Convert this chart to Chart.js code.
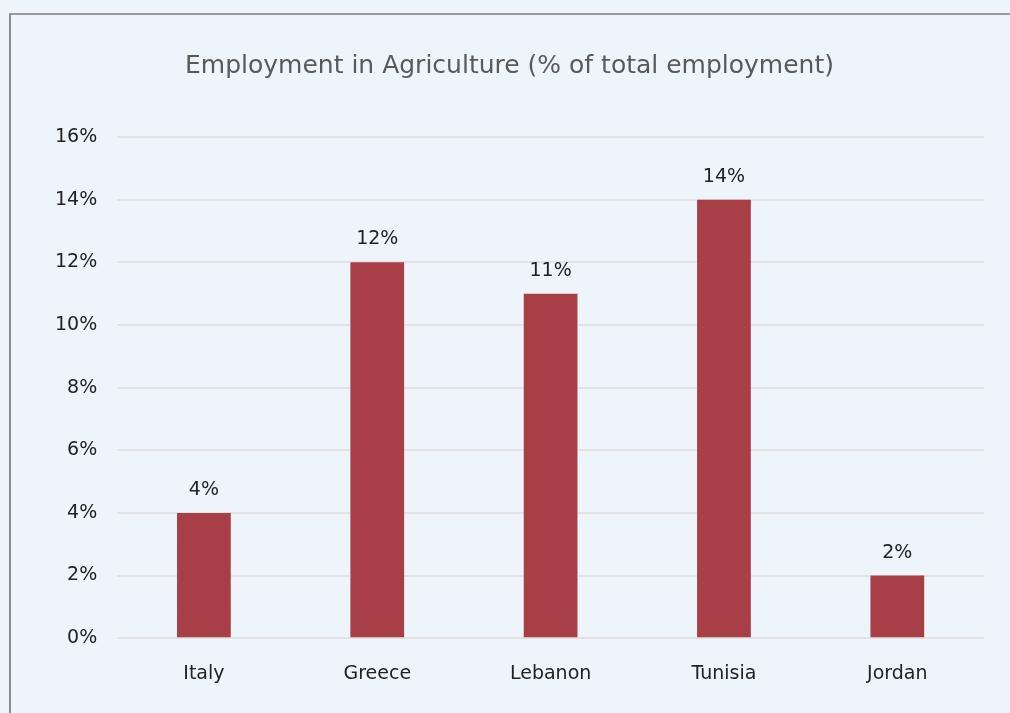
<html>
  <head>
    <script src="https://cdn.jsdelivr.net/npm/chart.js@4/dist/chart.umd.min.js"></script>
    <meta charset="utf-8">
    <title>Employment in Agriculture</title>
    <style>
      body { margin: 0; background: #edf5fb; }
      #frame {
        position: absolute; left: 9px; top: 13px; width: 1001px; height: 700px;
        border-top: 2px solid #9a9a9a; border-left: 2px solid #8c8c8c;
        box-sizing: border-box;
      }
    </style>
  </head>
  <body>
    <div id="frame"><canvas id="myChart"></canvas></div>

    <script type="text/javascript">
      const countries = ["Italy", "Greece", "Lebanon", "Tunisia", "Jordan"];
      const agriShare = [4, 12, 11, 14, 2];
      const yTicks = [0, 2, 4, 6, 8, 10, 12, 14, 16];

      const FONT = "'DejaVu Sans', sans-serif";

      // value labels above each bar
      const barLabels = {
        id: 'barLabels',
        afterDatasetsDraw(chart) {
          const ctx = chart.ctx;
          const meta = chart.getDatasetMeta(0);
          ctx.save();
          ctx.font = '19px ' + FONT;
          ctx.fillStyle = '#222222';
          ctx.textAlign = 'center';
          ctx.textBaseline = 'alphabetic';
          meta.data.forEach((bar, i) => {
            ctx.fillText(agriShare[i] + '%', bar.x, bar.y - 18);
          });
          ctx.restore();
        }
      };

      var ctx = document.getElementById('myChart').getContext('2d');
      var chart = new Chart(ctx, {
          type: 'bar',
          data: {
              labels: countries,
              datasets: [{
                  label: "Employment in Agriculture",
                  backgroundColor: '#a83e46',
                  data: agriShare,
                  barPercentage: 0.62,
                  categoryPercentage: 0.5
              }]
          },
          options: {
              responsive: true,
              maintainAspectRatio: false,
              animation: false,
              layout: { padding: { left: 24, right: 26, top: 26, bottom: 12 } },
              plugins: {
                  legend: { display: false },
                  tooltip: { enabled: false },
                  title: {
                      display: true,
                      text: 'Employment in Agriculture (% of total employment)',
                      color: '#595959',
                      font: { family: FONT, size: 25, weight: 'normal' },
                      padding: { top: 10, bottom: 56 }
                  }
              },
              scales: {
                  x: {
                      grid: { display: false },
                      border: { display: false },
                      ticks: { color: '#222222', font: { family: FONT, size: 19 }, padding: 16 }
                  },
                  y: {
                      min: 0, max: 16,
                      afterBuildTicks: axis => { axis.ticks = yTicks.map(v => ({ value: v })); },
                      grid: { color: '#e3e3e3', lineWidth: 2, drawTicks: false },
                      border: { display: false },
                      ticks: {
                          color: '#222222', padding: 20,
                          font: { family: FONT, size: 19 },
                          callback: v => v + '%'
                      }
                  }
              }
          },
          plugins: [barLabels]
      });
    </script>
  </body>
</html>
